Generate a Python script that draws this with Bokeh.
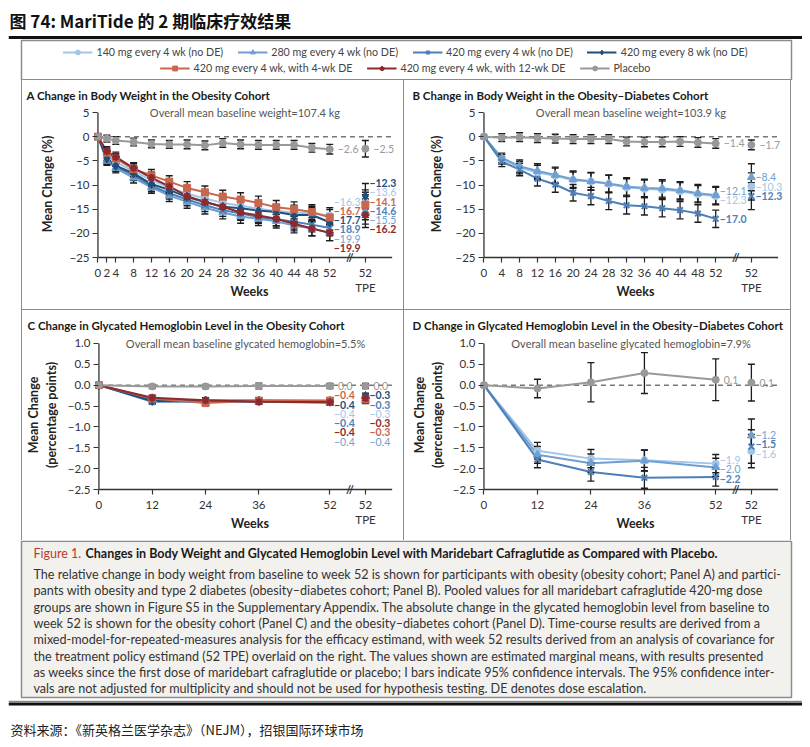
from bokeh.plotting import figure
from bokeh.models import Label, FixedTicker, CustomJSTickFormatter, Legend, LegendItem, Spacer
from bokeh.layouts import column, row
from bokeh.embed import file_html
from bokeh.resources import INLINE
from bokeh.core.properties import value

FONT = "Lato"
CJK = "Noto Sans CJK SC"
MINUS = "\u2212"

# ---------------- series meta ----------------
series_keys = ["s140", "s280", "s420", "s420q8", "de4", "de12", "pbo"]
legend_labels = ["140 mg every 4 wk (no DE)", "280 mg every 4 wk (no DE)",
                 "420 mg every 4 wk (no DE)", "420 mg every 8 wk (no DE)",
                 "420 mg every 4 wk, with 4-wk DE", "420 mg every 4 wk, with 12-wk DE",
                 "Placebo"]
colors = {"s140": "#a3c6e7", "s280": "#6f9fd2", "s420": "#4d7fb8", "s420q8": "#1e4e7b",
          "de4": "#c8674e", "de12": "#8c2a2d", "pbo": "#999999"}
markers = {"s140": "circle", "s280": "triangle", "s420": "x", "s420q8": "diamond",
           "de4": "square", "de12": "asterisk", "pbo": "circle"}
msize = {"s140": 7, "s280": 8, "s420": 8, "s420q8": 9, "de4": 7, "de12": 8, "pbo": 7}
label_bold = {"s140": "normal", "s280": "normal", "s420": "bold", "s420q8": "bold",
              "de4": "bold", "de12": "bold", "pbo": "normal"}

# ---------------- Panel A: body weight, obesity cohort (%) ----------------
weeks_a = [0, 2, 4, 8, 12, 16, 20, 24, 28, 32, 36, 40, 44, 48, 52]
a_s140 = [0, -4.0, -5.2, -7.2, -9.0, -10.6, -11.8, -12.8, -13.7, -14.3, -14.9, -15.4, -15.7, -15.9, -16.3]
a_s280 = [0, -5.0, -6.5, -8.5, -10.5, -12.2, -13.5, -14.7, -15.7, -16.5, -17.0, -17.5, -18.4, -19.0, -19.9]
a_s420 = [0, -4.8, -6.2, -8.0, -10.2, -11.7, -13.0, -14.2, -15.2, -15.9, -16.6, -17.1, -17.6, -18.2, -18.9]
a_s420q8 = [0, -4.5, -6.0, -7.6, -9.8, -11.0, -12.5, -13.5, -14.5, -14.8, -15.3, -15.6, -16.2, -16.2, -17.7]
a_de4 = [0, -3.3, -4.5, -6.7, -8.0, -9.3, -10.6, -11.5, -12.4, -13.0, -13.7, -14.6, -15.0, -15.6, -16.7]
a_de12 = [0, -3.0, -4.2, -6.5, -8.5, -10.3, -12.3, -13.5, -14.5, -15.7, -16.3, -17.0, -18.0, -19.0, -19.9]
a_pbo = [0, -0.4, -0.8, -1.1, -1.5, -1.6, -1.6, -1.8, -1.3, -1.6, -1.7, -1.7, -1.7, -2.3, -2.6]
a_tpe = {"s140": -13.6, "s280": -15.5, "s420": -14.6, "s420q8": -12.3, "de4": -14.1, "de12": -16.2, "pbo": -2.5}
a_ci_trt = [0, 0.9, 1.0, 1.1, 1.2, 1.2, 1.3, 1.3, 1.3, 1.4, 1.4, 1.4, 1.5, 1.5, 1.6]
a_ci_pbo = [0, 0.7, 0.8, 0.8, 0.8, 0.8, 0.9, 0.9, 0.9, 0.9, 0.9, 0.9, 0.9, 0.9, 1.0]
a_tpe_ci_trt = 2.6
a_tpe_ci_pbo = 1.7

# ---------------- Panel B: body weight, obesity-diabetes cohort (%) ----------------
weeks_b = [0, 4, 8, 12, 16, 20, 24, 28, 32, 36, 40, 44, 48, 52]
b_s140 = [0, -4.7, -6.4, -7.4, -8.1, -9.0, -9.3, -9.8, -10.5, -10.8, -11.0, -11.3, -11.9, -12.3]
b_s280 = [0, -4.4, -6.1, -7.1, -7.9, -8.8, -9.2, -9.7, -10.3, -10.6, -10.7, -11.1, -11.7, -12.1]
b_s420 = [0, -5.2, -6.8, -8.7, -9.9, -11.6, -12.3, -13.3, -14.2, -14.4, -14.8, -15.2, -15.9, -17.0]
b_pbo = [0, -0.2, -0.1, -0.3, -0.4, -0.5, -0.5, -0.5, -1.0, -1.1, -1.1, -1.0, -1.2, -1.4]
b_tpe = {"s140": -10.3, "s280": -8.4, "s420": -12.3, "pbo": -1.7}
b_ci_trt = [0, 1.0, 1.3, 1.5, 1.6, 1.7, 1.8, 1.8, 1.8, 1.8, 1.8, 1.8, 1.8, 1.8]
b_ci_pbo = [0, 0.8, 0.9, 0.9, 0.9, 0.9, 0.9, 0.9, 0.9, 1.0, 1.0, 1.0, 1.0, 1.0]
b_tpe_ci_trt = 2.8
b_tpe_ci_pbo = 1.0

# ---------------- Panel C: HbA1c, obesity cohort (percentage points) ----------------
weeks_c = [0, 12, 24, 36, 52]
c_s140 = [0, -0.33, -0.38, -0.38, -0.40]
c_s280 = [0, -0.35, -0.40, -0.40, -0.42]
c_s420 = [0, -0.40, -0.40, -0.39, -0.41]
c_s420q8 = [0, -0.38, -0.37, -0.37, -0.38]
c_de4 = [0, -0.32, -0.43, -0.37, -0.37]
c_de12 = [0, -0.30, -0.36, -0.40, -0.41]
c_pbo = [0, -0.03, -0.03, -0.02, -0.02]
c_tpe = {"s140": -0.30, "s280": -0.37, "s420": -0.28, "s420q8": -0.26, "de4": -0.33, "de12": -0.31, "pbo": -0.02}
c_ci_trt = [0, 0.06, 0.06, 0.06, 0.06]
c_ci_pbo = [0, 0.05, 0.05, 0.07, 0.06]
c_tpe_ci_trt = 0.07
c_tpe_ci_pbo = 0.06

# ---------------- Panel D: HbA1c, obesity-diabetes cohort (percentage points) ----------------
weeks_d = [0, 12, 24, 36, 52]
d_s140 = [0, -1.57, -1.76, -1.80, -1.88]
d_s280 = [0, -1.67, -1.87, -1.81, -1.97]
d_s420 = [0, -1.78, -2.08, -2.22, -2.20]
d_pbo = [0, -0.08, 0.07, 0.29, 0.13]
d_tpe = {"s140": -1.58, "s280": -1.21, "s420": -1.47, "pbo": 0.06}
d_ci_trt = [0, 0.20, 0.22, 0.25, 0.22]
d_ci_pbo = [0, 0.22, 0.47, 0.49, 0.50]
d_tpe_ci_trt = 0.40
d_tpe_ci_pbo = 0.44

yticks_w = [5, 0, -5, -10, -15, -20, -25]
yticks_h = [1.0, 0.5, 0.0, -0.5, -1.0, -1.5, -2.0, -2.5]
TPE_X = 60
BREAK_X = 56.5
X_END = 66
TOP_B, BOT_B = 25, 47   # panel top / bottom borders (px)
PAD_X, PAD_Y = 1.0, 5   # axis offset inside the frame (data units / px)


def fmt(v):
    s = f"{abs(v):.1f}"
    return (MINUS + s) if (v < 0 and s != "0.0") else s


def place_labels(vals, keys, gap):
    trt = [(v, k) for v, k in zip(vals, keys) if k != "pbo"]
    trt.sort(key=lambda t: -t[0])
    clusters = [[t] for t in trt]

    def pos(cl):
        c = sum(t[0] for t in cl) / len(cl)
        top = c + gap * (len(cl) - 1) / 2
        return [top - gap * i for i in range(len(cl))]

    changed = True
    while changed:
        changed = False
        for i in range(len(clusters) - 1):
            if pos(clusters[i])[-1] - pos(clusters[i + 1])[0] < gap:
                clusters[i] = clusters[i] + clusters.pop(i + 1)
                changed = True
                break
    out = {}
    for cl in clusters:
        for t, y in zip(cl, pos(cl)):
            out[t[1]] = y
    if "pbo" in keys:
        pv = vals[keys.index("pbo")]
        out["pbo"] = pv
        tops = [out[k] for k in keys if k != "pbo"]
        if tops and max(tops) > pv - gap and min(v for v, k in trt) < pv:
            shift = (pv - gap) - max(tops)
            for k in keys:
                if k != "pbo":
                    out[k] += shift
    return out


def make_panel(title, subtitle, weeks, data, tpe, ci_trt, ci_pbo, tpe_ci_trt, tpe_ci_pbo,
               ymin, ymax_tick, ytop, yticks, dec, ylabel, xticks, w, h, mbl, ylab_standoff, styles):
    keys = [k for k in series_keys if k in data]
    frame_h = h - TOP_B - BOT_B
    ppu_y = (frame_h - PAD_Y) / (ytop - ymin)
    ybot = ymin - PAD_Y / ppu_y
    p = figure(width=w, height=h, x_range=(-PAD_X, 69), y_range=(ybot, ytop),
               output_backend="svg", toolbar_location=None,
               min_border_left=mbl, min_border_right=0, min_border_top=TOP_B, min_border_bottom=BOT_B,
               title=title, styles=styles)
    p.xgrid.visible = False
    p.ygrid.visible = False
    p.outline_line_color = None
    p.background_fill_color = "white"
    p.border_fill_color = "white"

    p.title.text_font = FONT
    p.title.text_font_size = "11.5px"
    p.title.text_font_style = "bold"
    p.title.text_color = "#1a1a1a"
    p.title.align = "left"
    p.title.offset = -67
    p.title.standoff = 7

    ppu_x = (w - mbl) / (69 + PAD_X)
    x_in = int(round(ppu_x * PAD_X))

    xa = p.xaxis[0]
    xa.ticker = FixedTicker(ticks=xticks + [TPE_X])
    xa.formatter = CustomJSTickFormatter(code="return tick == 60 ? '52\\nTPE' : tick.toFixed(0);")
    xa.axis_line_color = None
    xa.major_tick_line_color = "#333333"
    xa.major_tick_line_width = 1.2
    xa.major_tick_out = 0
    xa.major_tick_in = PAD_Y
    xa.minor_tick_out = 0
    xa.minor_tick_in = 0
    xa.major_label_text_font = FONT
    xa.major_label_text_font_size = "11.5px"
    xa.major_label_text_color = "#333333"
    xa.major_label_standoff = 3
    xa.axis_label = "Weeks"
    xa.axis_label_text_font = FONT
    xa.axis_label_text_font_size = "12.5px"
    xa.axis_label_text_font_style = "bold"
    xa.axis_label_text_color = "#222222"
    xa.axis_label_standoff = -13

    ya = p.yaxis[0]
    ya.ticker = FixedTicker(ticks=yticks)
    ya.formatter = CustomJSTickFormatter(args=dict(dec=dec), code="""
        const s = Math.abs(tick).toFixed(dec);
        return (tick < -1e-9 ? '\u2212' : '') + s;
    """)
    ya.axis_line_color = None
    ya.major_tick_line_color = "#333333"
    ya.major_tick_line_width = 1.2
    ya.major_tick_out = 1
    ya.major_tick_in = x_in
    ya.minor_tick_out = 0
    ya.minor_tick_in = 0
    ya.major_label_text_font = FONT
    ya.major_label_text_font_size = "11.5px"
    ya.major_label_text_color = "#333333"
    ya.major_label_standoff = 3
    ya.axis_label = ylabel
    ya.axis_label_text_font = FONT
    ya.axis_label_text_font_size = "12.5px"
    ya.axis_label_text_font_style = "bold"
    ya.axis_label_text_color = "#222222"
    ya.axis_label_standoff = ylab_standoff

    # axis lines at x = 0 and y = ymin
    p.segment(x0=[0], y0=[ymin], x1=[0], y1=[ymax_tick], line_color="#333333", line_width=1.3)
    p.segment(x0=[0], y0=[ymin], x1=[X_END], y1=[ymin], line_color="#333333", line_width=1.3)
    # dashed zero reference
    p.segment(x0=[0], y0=[0], x1=[X_END], y1=[0], line_color="#777777", line_width=1.5, line_dash="5 4")

    # lines
    for k in keys:
        p.line(weeks, data[k], line_color=colors[k], line_width=2)

    # error bars (95% CI)
    bx, blo, bhi = [], [], []
    for k in keys:
        ci = ci_pbo if k == "pbo" else ci_trt
        for wk, v, c in zip(weeks, data[k], ci):
            if c > 0:
                bx.append(wk); blo.append(v - c); bhi.append(v + c)
        c = tpe_ci_pbo if k == "pbo" else tpe_ci_trt
        bx.append(TPE_X); blo.append(tpe[k] - c); bhi.append(tpe[k] + c)
    p.segment(x0=bx, y0=blo, x1=bx, y1=bhi, line_color="#1c1c1c", line_width=1.3)
    p.scatter(bx, blo, marker="dash", size=7, line_color="#1c1c1c", line_width=1.4)
    p.scatter(bx, bhi, marker="dash", size=7, line_color="#1c1c1c", line_width=1.4)

    # markers
    for k in keys:
        xs = list(weeks) + [TPE_X]
        ys = list(data[k]) + [tpe[k]]
        lw = 2 if markers[k] in ("x", "asterisk") else 1
        p.scatter(xs, ys, marker=markers[k], size=msize[k], fill_color=colors[k],
                  line_color=colors[k], line_width=lw)

    # end-value labels
    gap = 9.3 / ppu_y
    for xcol, vals_by_key in ((52, {k: data[k][-1] for k in keys}), (TPE_X, tpe)):
        vals = [vals_by_key[k] for k in keys]
        ypos = place_labels(vals, keys, gap)
        p.text(x=[xcol] * len(keys), y=[ypos[k] for k in keys],
               text=[fmt(vals_by_key[k]) for k in keys],
               text_color=[colors[k] for k in keys],
               text_font_style=[label_bold[k] for k in keys],
               x_offset=[8 if k == "pbo" else 4 for k in keys],
               text_font=value(FONT), text_font_size="10.5px", text_baseline="middle",
               text_align="left")

    # subtitle and axis break
    p.add_layout(Label(x=33, y=ymax_tick, text=subtitle, text_font=FONT, text_font_size="11px",
                       text_color="#555555", text_align="center", text_baseline="middle"))
    p.add_layout(Label(x=BREAK_X, y=ymin, text="//", text_font=FONT, text_font_size="11px",
                       text_font_style="bold", text_color="#333333", text_align="center",
                       text_baseline="middle"))
    return p


BORDER = "1.5px solid #8c8c8c"
xt_a = [0, 2, 4, 8, 12, 16, 20, 24, 28, 32, 36, 40, 44, 48, 52]
xt_b = [0, 4, 8, 12, 16, 20, 24, 28, 32, 36, 40, 44, 48, 52]
xt_c = [0, 12, 24, 36, 52]

pA = make_panel("A  Change in Body Weight in the Obesity Cohort",
                "Overall mean baseline weight=107.4 kg", weeks_a,
                {"s140": a_s140, "s280": a_s280, "s420": a_s420, "s420q8": a_s420q8,
                 "de4": a_de4, "de12": a_de12, "pbo": a_pbo},
                a_tpe, a_ci_trt, a_ci_pbo, a_tpe_ci_trt, a_tpe_ci_pbo,
                -25, 5, 6.45, yticks_w, 0, "Mean Change (%)", xt_a, 383, 229, 71, 11,
                {"border-left": BORDER, "border-right": BORDER})
pB = make_panel("B  Change in Body Weight in the Obesity\u2013Diabetes Cohort",
                "Overall mean baseline weight=103.9 kg", weeks_b,
                {"s140": b_s140, "s280": b_s280, "s420": b_s420, "pbo": b_pbo},
                b_tpe, b_ci_trt, b_ci_pbo, b_tpe_ci_trt, b_tpe_ci_pbo,
                -25, 5, 6.45, yticks_w, 0, "Mean Change (%)", xt_b, 387, 229, 75, 8,
                {"border-right": BORDER})
pC = make_panel("C  Change in Glycated Hemoglobin Level in the Obesity Cohort",
                "Overall mean baseline glycated hemoglobin=5.5%", weeks_c,
                {"s140": c_s140, "s280": c_s280, "s420": c_s420, "s420q8": c_s420q8,
                 "de4": c_de4, "de12": c_de12, "pbo": c_pbo},
                c_tpe, c_ci_trt, c_ci_pbo, c_tpe_ci_trt, c_tpe_ci_pbo,
                -2.5, 1.0, 1.19, yticks_h, 1, "Mean Change\n(percentage points)", xt_c, 383, 231, 71, 6,
                {"border-left": BORDER, "border-right": BORDER, "border-top": BORDER})
pD = make_panel("D  Change in Glycated Hemoglobin Level in the Obesity\u2013Diabetes Cohort",
                "Overall mean baseline glycated hemoglobin=7.9%", weeks_d,
                {"s140": d_s140, "s280": d_s280, "s420": d_s420, "pbo": d_pbo},
                d_tpe, d_ci_trt, d_ci_pbo, d_tpe_ci_trt, d_tpe_ci_pbo,
                -2.5, 1.0, 1.19, yticks_h, 1, "Mean Change\n(percentage points)", xt_c, 387, 231, 75, 5,
                {"border-right": BORDER, "border-top": BORDER})

# ---------------- header: title + legend ----------------
W = 794
HH = 72
hdr = figure(width=W, height=HH, x_range=(0, W), y_range=(0, HH), output_backend="svg",
             toolbar_location=None, x_axis_location=None, y_axis_location=None,
             min_border=0, outline_line_color=None)
hdr.grid.visible = False
hdr.text(x=[1], y=[60], text=["图 74: MariTide 的 2 期临床疗效结果"], text_font=value(CJK),
         text_font_size="17px", text_font_style="bold", text_color="#111111",
         text_baseline="middle", text_align="left")
hdr.segment(x0=[0], y0=[43], x1=[W], y1=[43], line_color="#111111", line_width=3)
hdr.quad(left=[13], right=[783], bottom=[0.75], top=[40], fill_color=None,
         line_color="#8c8c8c", line_width=1.5)
items = []
for k, lab in zip(series_keys, legend_labels):
    lr = hdr.line([-100, -90], [-100, -100], line_color=colors[k], line_width=2)
    lw = 2 if markers[k] in ("x", "asterisk") else 1
    sr = hdr.scatter([-100], [-100], marker=markers[k], size=msize[k], fill_color=colors[k],
                     line_color=colors[k], line_width=lw)
    items.append(LegendItem(label=lab, renderers=[lr, sr]))
leg_style = dict(orientation="horizontal", padding=0, spacing=14, glyph_width=30, glyph_height=12,
                 label_standoff=4, label_text_font=FONT, label_text_font_size="10.7px",
                 label_text_color="#444444", border_line_color=None, background_fill_alpha=0,
                 label_height=12, label_text_baseline="middle")
hdr.add_layout(Legend(items=items[:4], location="top_center", margin=37, **leg_style))
hdr.add_layout(Legend(items=items[4:], location="bottom_center", margin=6, **leg_style))

# ---------------- caption box ----------------
caption_title_lead = "Figure 1."
caption_title = "Changes in Body Weight and Glycated Hemoglobin Level with Maridebart Cafraglutide as Compared with Placebo."
caption_lines = [
    "The relative change in body weight from baseline to week 52 is shown for participants with obesity (obesity cohort; Panel A) and partici-",
    "pants with obesity and type 2 diabetes (obesity\u2013diabetes cohort; Panel B). Pooled values for all maridebart cafraglutide 420-mg dose",
    "groups are shown in Figure S5 in the Supplementary Appendix. The absolute change in the glycated hemoglobin level from baseline to",
    "week 52 is shown for the obesity cohort (Panel C) and the obesity\u2013diabetes cohort (Panel D). Time-course results are derived from a",
    "mixed-model-for-repeated-measures analysis for the efficacy estimand, with week 52 results derived from an analysis of covariance for",
    "the treatment policy estimand (52 TPE) overlaid on the right. The values shown are estimated marginal means, with results presented",
    "as weeks since the first dose of maridebart cafraglutide or placebo; I bars indicate 95% confidence intervals. The 95% confidence inter-",
    "vals are not adjusted for multiplicity and should not be used for hypothesis testing. DE denotes dose escalation.",
]
CH = 160
cap = figure(width=W, height=CH, x_range=(0, W), y_range=(0, CH), output_backend="svg",
             toolbar_location=None, x_axis_location=None, y_axis_location=None,
             min_border=0, outline_line_color=None)
cap.grid.visible = False
cap.quad(left=[13], right=[783], bottom=[3], top=[CH - 0.75], fill_color="#f3f1ed",
         line_color="#8c8c8c", line_width=1.5)
cap.text(x=[25], y=[147], text=[caption_title_lead], text_font=value(FONT), text_font_size="12.5px",
         text_color="#b83a2e", text_baseline="middle")
cap.text(x=[77], y=[147], text=[caption_title], text_font=value(FONT), text_font_size="12.5px",
         text_font_style="bold", text_color="#1a1a1a", text_baseline="middle")
cap.text(x=[25] * len(caption_lines), y=[126 - 16.3 * i for i in range(len(caption_lines))],
         text=caption_lines, text_font=value(FONT), text_font_size="12.6px", text_color="#333333",
         text_baseline="middle")

# ---------------- footer ----------------
FH = 39
ftr = figure(width=W, height=FH, x_range=(0, W), y_range=(0, FH), output_backend="svg",
             toolbar_location=None, x_axis_location=None, y_axis_location=None,
             min_border=0, outline_line_color=None)
ftr.grid.visible = False
ftr.segment(x0=[0], y0=[38.3], x1=[W], y1=[38.3], line_color="#555555", line_width=1)
ftr.segment(x0=[0], y0=[35.5], x1=[W], y1=[35.5], line_color="#111111", line_width=3)
ftr.text(x=[2], y=[10], text=["资料来源：《新英格兰医学杂志》（NEJM），招银国际环球市场"],
         text_font=value(CJK), text_font_size="13px", text_color="#222222", text_baseline="middle")

content = column(
    hdr,
    row(Spacer(width=13, height=229), pA, pB, Spacer(width=11, height=229)),
    row(Spacer(width=13, height=231), pC, pD, Spacer(width=11, height=231)),
    cap,
    ftr,
)
layout = column(Spacer(width=802, height=8), row(Spacer(width=8, height=731), content))

open("out.html", "w").write(file_html(layout, INLINE))
